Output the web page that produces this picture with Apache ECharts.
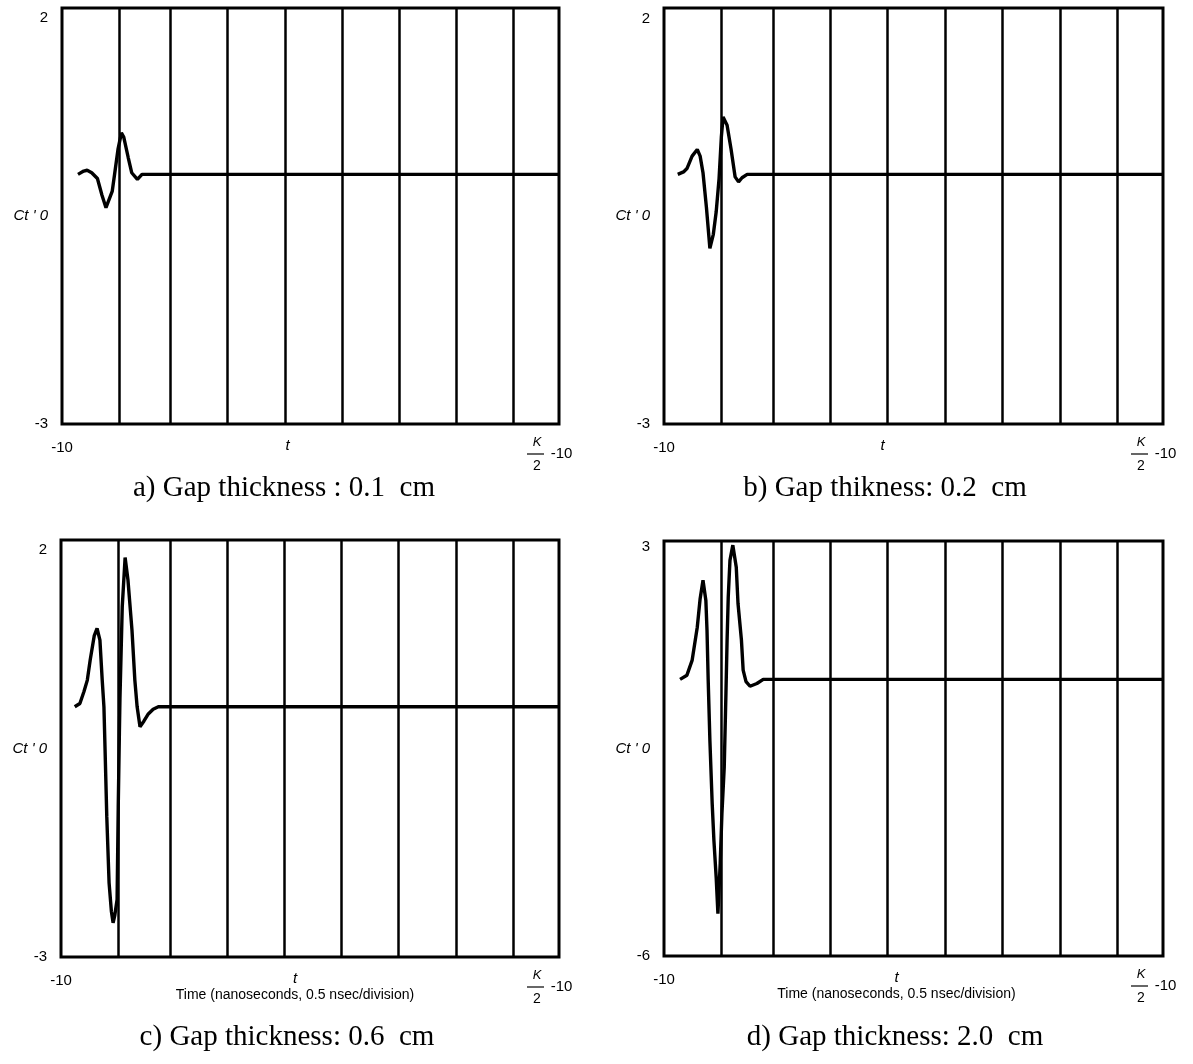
<!DOCTYPE html>
<html>
<head>
<meta charset="utf-8">
<title>Gap thickness</title>
<script src="https://cdn.jsdelivr.net/npm/echarts@6.0.0/dist/echarts.min.js"></script>
<style>
html, body { margin: 0; padding: 0; background: #fff; }
#main { width: 1193px; height: 1064px; }
</style>
</head>
<body>
<div id="main"></div>
<script>
// time from the left edge of each plot, in ns (0.5 ns / division)
var tA = [0.14, 0.19, 0.22, 0.26, 0.31, 0.35, 0.385, 0.40, 0.44, 0.46, 0.49, 0.52, 0.54, 0.58, 0.61, 0.66, 0.70, 4.35];
var vA = [0, 0.04, 0.05, 0.02, -0.05, -0.25, -0.40, -0.38, -0.20, 0.0, 0.30, 0.50, 0.45, 0.20, 0.02, -0.06, 0, 0];

var tB = [0.12, 0.17, 0.20, 0.245, 0.29, 0.315, 0.34, 0.37, 0.40, 0.43, 0.455, 0.48, 0.50, 0.515, 0.55, 0.585, 0.62, 0.65, 0.68, 0.725, 4.35];
var vB = [0, 0.03, 0.07, 0.22, 0.30, 0.22, 0.02, -0.40, -0.89, -0.72, -0.45, -0.05, 0.45, 0.69, 0.59, 0.30, -0.03, -0.09, -0.04, 0, 0];

var tC = [0.12, 0.165, 0.20, 0.23, 0.255, 0.29, 0.315, 0.34, 0.36, 0.375, 0.385, 0.40, 0.42, 0.44, 0.455, 0.47, 0.49, 0.50, 0.51, 0.515, 0.535, 0.56, 0.585, 0.62, 0.645, 0.665, 0.69, 0.725, 0.76, 0.805, 0.85, 4.35];
var vC = [0, 0.04, 0.18, 0.32, 0.56, 0.85, 0.94, 0.80, 0.32, 0.0, -0.52, -1.32, -2.11, -2.45, -2.59, -2.50, -2.31, -1.20, -0.31, 0.10, 1.20, 1.79, 1.52, 0.92, 0.32, 0.0, -0.24, -0.17, -0.09, -0.03, 0, 0];

var tD = [0.14, 0.20, 0.245, 0.29, 0.315, 0.34, 0.365, 0.375, 0.385, 0.40, 0.42, 0.435, 0.455, 0.47, 0.49, 0.505, 0.525, 0.54, 0.55, 0.56, 0.575, 0.60, 0.63, 0.645, 0.675, 0.69, 0.715, 0.75, 0.81, 0.865, 4.35];
var vD = [0, 0.09, 0.41, 1.13, 1.75, 2.15, 1.71, 1.06, 0, -1.32, -2.69, -3.49, -4.30, -5.08, -3.99, -2.91, -1.91, -0.30, 0.85, 1.78, 2.58, 2.91, 2.43, 1.65, 0.85, 0.20, -0.05, -0.15, -0.09, 0, 0];

// vertical division lines and x range
var gridLinesNs = [0.5, 0.95, 1.45, 1.95, 2.45, 2.95, 3.45, 3.95];
var tMax = 4.35;

var yMinAC = -3, yMaxAC = 2;
var yMinD = -6, yMaxD = 3;

var xLabelLeft = '-10';
var xLabelRight = ['K', '2', '-10'];
var yName = "Ct ' 0";
var xName = 't';
var xNameTime = 'Time (nanoseconds, 0.5 nsec/division)';
var titles = ['a) Gap thickness : 0.1  cm', 'b) Gap thikness: 0.2  cm', 'c) Gap thickness: 0.6  cm', 'd) Gap thickness: 2.0  cm'];

var SANS = '"Liberation Sans", Arial, sans-serif';
var SERIF = '"Liberation Serif", "Times New Roman", serif';

function zip(t, v) {
	var out = [];
	for (var i = 0; i < t.length; i++) {
		out.push([t[i], v[i]]);
	}
	return out;
}

var panels = [
	{ left: 62, top: 8, width: 497, height: 416, t: tA, v: vA, yMin: yMinAC, yMax: yMaxAC, topPad: 20, namePad: 6, nameShift: 46, time: false, titleX: 284, titleY: 474 },
	{ left: 664, top: 8, width: 499, height: 416, t: tB, v: vB, yMin: yMinAC, yMax: yMaxAC, topPad: 22, namePad: 20, nameShift: 62, time: false, titleX: 885, titleY: 474 },
	{ left: 61, top: 540, width: 498, height: 417, t: tC, v: vC, yMin: yMinAC, yMax: yMaxAC, topPad: 20, namePad: 20, nameShift: 30, time: true, titleX: 287, titleY: 1023 },
	{ left: 664, top: 541, width: 499, height: 415, t: tD, v: vD, yMin: yMinD, yMax: yMaxD, topPad: 12, namePad: 16, nameShift: 34, time: true, titleX: 895, titleY: 1023 }
];

var grids = [], xAxes = [], yAxes = [], series = [], titleList = [];

panels.forEach(function(p, i) {
	grids.push({
		left: p.left, top: p.top, width: p.width, height: p.height,
		outerBoundsMode: 'none',
		show: true, borderColor: '#000', borderWidth: 3, backgroundColor: 'transparent'
	});

	xAxes.push({
		type: 'value', gridIndex: i, min: 0, max: tMax,
		axisLine: { show: false },
		axisTick: { show: false, customValues: gridLinesNs },
		splitLine: { show: true, lineStyle: { color: '#000', width: 2.5 } },
		axisLabel: {
			customValues: [0, tMax],
			margin: 12,
			color: '#000',
			fontFamily: SANS,
			formatter: function(val) {
				if (val === 0) {
					return '{lo|' + xLabelLeft + '}';
				}
				return '{s4|}{k|' + xLabelRight[0] + '}{gap|}\n' +
					'{bar|}{s5|}{n|' + xLabelRight[2] + '}{pad|}\n' +
					'{s4|}{k2|' + xLabelRight[1] + '}{gap|}';
			},
			rich: {
				lo: { fontSize: 15, lineHeight: 24, fontFamily: SANS, color: '#000' },
				s4: { width: 4, lineHeight: 12 },
				s5: { width: 5, lineHeight: 12 },
				k: { width: 12, fontSize: 13, fontStyle: 'italic', lineHeight: 12, fontFamily: SANS, color: '#000' },
				k2: { width: 12, fontSize: 14, lineHeight: 12, fontFamily: SANS, color: '#000' },
				gap: { width: 48, lineHeight: 12 },
				bar: { width: 17, height: 1.2, lineHeight: 12, backgroundColor: '#000' },
				n: { width: 25, fontSize: 15, lineHeight: 12, fontFamily: SANS, color: '#000' },
				pad: { width: 17, lineHeight: 12 }
			}
		},
		name: p.time ? '{t|' + xName + '}\n{tm|' + xNameTime + '}' : '{t|' + xName + '}',
		nameLocation: 'middle',
		nameGap: 14,
		nameMoveOverlap: false,
		nameTextStyle: {
			padding: [0, p.nameShift, 0, 0],
			rich: {
				t: { fontSize: 15, fontStyle: 'italic', fontFamily: SANS, color: '#000', lineHeight: 16 },
				tm: { fontSize: 14, fontFamily: SANS, color: '#000', lineHeight: 16 }
			}
		}
	});

	yAxes.push({
		type: 'value', gridIndex: i, min: p.yMin, max: p.yMax,
		axisLine: { show: false },
		axisTick: { show: false },
		splitLine: { show: false },
		axisLabel: {
			customValues: [p.yMin, p.yMax],
			margin: 14,
			color: '#000',
			fontFamily: SANS,
			fontSize: 15,
			formatter: function(val) {
				if (val === p.yMax) {
					return '{top|' + val + '}';
				}
				return String(val);
			},
			rich: {
				top: { fontSize: 15, fontFamily: SANS, color: '#000', padding: [p.topPad, 0, 0, 0] }
			}
		},
		name: yName,
		nameLocation: 'middle',
		nameRotate: 0,
		nameGap: 14,
		nameMoveOverlap: false,
		nameTextStyle: {
			fontSize: 15, fontStyle: 'italic', fontFamily: SANS, color: '#000',
			padding: [p.namePad, 0, 0, 0]
		}
	});

	series.push({
		type: 'line', xAxisIndex: i, yAxisIndex: i,
		data: zip(p.t, p.v),
		showSymbol: false, symbol: 'none',
		lineStyle: { color: '#000', width: 3.4 },
		z: 5
	});

	titleList.push({
		text: titles[i],
		left: p.titleX, top: p.titleY,
		textAlign: 'center',
		padding: 0,
		textStyle: { fontFamily: SERIF, fontSize: 29, fontWeight: 'normal', color: '#000' }
	});
});

var option = {
	animation: false,
	backgroundColor: '#fff',
	title: titleList,
	grid: grids,
	xAxis: xAxes,
	yAxis: yAxes,
	series: series
};

var myChart = echarts.init(document.getElementById('main'));
myChart.setOption(option);
</script>
</body>
</html>
